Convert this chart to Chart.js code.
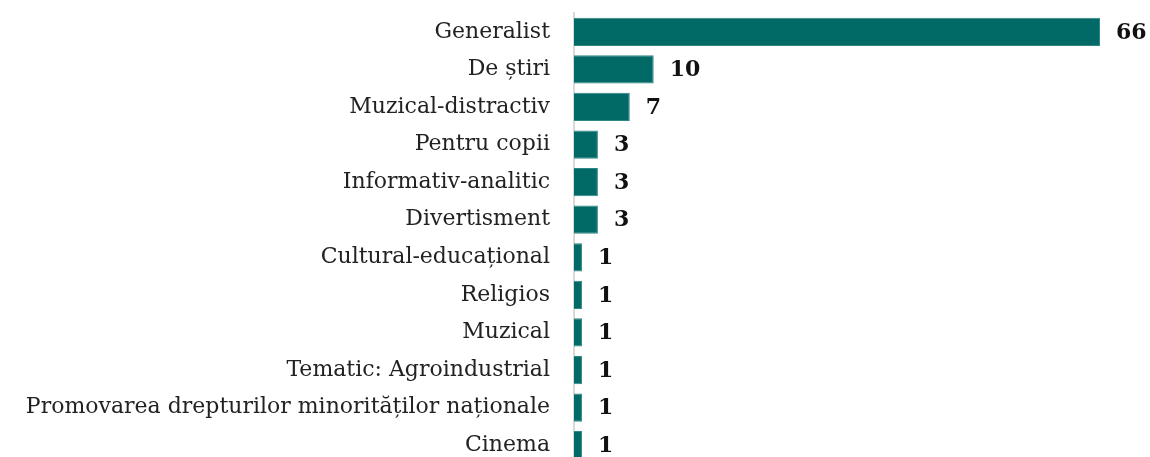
<!DOCTYPE html>
<html lang="ro">
<head>
  <meta charset="UTF-8">
  <script src="https://cdn.jsdelivr.net/npm/chart.js"></script>
  <title>Profil</title>
  <style>
    html, body { margin: 0; padding: 0; background: #fff; overflow: hidden; }
    canvas { display: block; }
  </style>
</head>
<body>
  <canvas id="chart" width="1150" height="480"></canvas>
  <script>
    const categories = [
      'Generalist', 'De știri', 'Muzical-distractiv', 'Pentru copii',
      'Informativ-analitic', 'Divertisment', 'Cultural-educațional', 'Religios',
      'Muzical', 'Tematic: Agroindustrial',
      'Promovarea drepturilor minorităților naționale', 'Cinema'
    ];
    const counts = [66, 10, 7, 3, 3, 3, 1, 1, 1, 1, 1, 1];

    const teal = '#016966';
    const labelFont = "'DejaVu Serif', serif";

    // value labels to the right of each bar
    const valueLabels = {
      id: 'valueLabels',
      afterDatasetsDraw(chart) {
        const ctx = chart.ctx;
        const meta = chart.getDatasetMeta(0);
        ctx.save();
        ctx.font = 'bold 22px ' + labelFont;
        ctx.fillStyle = '#111';
        ctx.textAlign = 'left';
        ctx.textBaseline = 'middle';
        meta.data.forEach((bar, i) => {
          ctx.fillText(String(counts[i]), bar.x + 16, bar.y + 1);
        });
        ctx.restore();
      }
    };

    new Chart(document.getElementById('chart'), {
      type: 'bar',
      data: {
        labels: categories,
        datasets: [{
          data: counts,
          backgroundColor: teal,
          borderColor: '#2f8783',
          borderWidth: 1,
          borderSkipped: 'left',
          categoryPercentage: 0.75,
          barPercentage: 1
        }]
      },
      options: {
        indexAxis: 'y',
        responsive: false,
        animation: false,
        layout: { padding: { top: 13, right: 50, bottom: 16, left: 0 } },
        plugins: { legend: { display: false }, tooltip: { enabled: false } },
        scales: {
          x: { display: false, min: 0, max: 66 },
          y: {
            afterFit(scale) {
              scale.width = 574;
              scale.paddingTop = 0;
              scale.paddingBottom = 0;
            },
            grid: { display: false, drawTicks: false },
            border: { display: true, color: '#d9d9d9', width: 2 },
            ticks: {
              padding: 24,
              color: '#222',
              font: { family: labelFont, size: 22 }
            }
          }
        }
      },
      plugins: [valueLabels]
    });
  </script>
</body>
</html>
